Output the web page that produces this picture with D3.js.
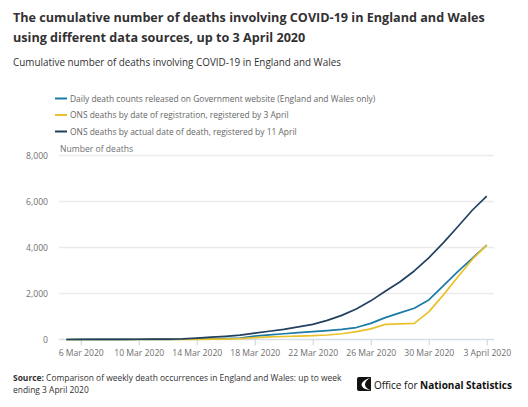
<!DOCTYPE html>
<html>
<head>
<meta charset="utf-8">
<script src="https://cdn.jsdelivr.net/npm/d3@7"></script>
<style>
  body { margin: 0; background: #fff; }
  text { font-family: "Open Sans", sans-serif; }
</style>
</head>
<body>
<div id="chart"></div>
<script>
var dates = ['5 Mar','6 Mar','7 Mar','8 Mar','9 Mar','10 Mar','11 Mar','12 Mar','13 Mar','14 Mar',
             '15 Mar','16 Mar','17 Mar','18 Mar','19 Mar','20 Mar','21 Mar','22 Mar','23 Mar','24 Mar',
             '25 Mar','26 Mar','27 Mar','28 Mar','29 Mar','30 Mar','31 Mar','1 Apr','2 Apr','3 Apr'];
var govDaily = [1,1,2,2,3,4,5,7,10,16,25,40,65,150,200,250,300,340,385,440,520,700,950,1160,1360,1720,2330,2950,3530,4100];
var onsRegistered = [0,0,0,1,1,2,3,4,5,8,12,20,40,80,110,130,150,165,195,250,340,460,660,680,700,1200,1930,2720,3480,4100];
var onsOccurred = [1,2,3,5,7,10,14,20,30,60,100,140,190,280,360,440,550,660,830,1050,1330,1680,2100,2500,2980,3550,4200,4900,5620,6235];
var yTicks = [0,2000,4000,6000,8000];
var xTickLabels = ['6 Mar 2020','10 Mar 2020','14 Mar 2020','18 Mar 2020','22 Mar 2020','26 Mar 2020','30 Mar 2020','3 April 2020'];
var seriesNames = ['Daily death counts released on Government website (England and Wales only)',
                   'ONS deaths by date of registration, registered by 3 April',
                   'ONS deaths by actual date of death, registered by 11 April'];
var colours = ['#1b7ba6','#e9c12a','#22405f'];

var width = 528, height = 407;
var svg = d3.select('#chart').append('svg')
                .attr('width',width)
                .attr('height',height);

// shrink/grow a text so its first line spans the width seen in the picture
var fit = function(sel, lineNode, target, size){
    var w = lineNode.getComputedTextLength();
    sel.attr('font-size', (size * target / w).toFixed(2) + 'px');
};

// titles
var title = svg.append('text')
                .attr('x',13).attr('y',22)
                .attr('font-size','14px').attr('font-weight','bold').attr('fill','#323132');
var t1 = title.append('tspan').attr('x',13).attr('dy',0).text('The cumulative number of deaths involving COVID-19 in England and Wales');
title.append('tspan').attr('x',13).attr('dy',20).text('using different data sources, up to 3 April 2020');
fit(title, t1.node(), 472, 14);

var sub = svg.append('text').attr('x',13).attr('y',66)
    .attr('font-size','10px').attr('fill','#323132')
    .text('Cumulative number of deaths involving COVID-19 in England and Wales');
fit(sub, sub.node(), 328, 10);

// legend
var legend = svg.selectAll('g.legend')
                .data(seriesNames)
                .enter()
                .append('g')
                .attr('class','legend')
                .attr('transform',function(d,i){ return 'translate(55,'+ (98.5 + i*16.5) +')'; });
legend.append('line')
        .attr('x1',0).attr('x2',12).attr('y1',0).attr('y2',0)
        .attr('stroke',function(d,i){ return colours[i]; })
        .attr('stroke-width',2);
var legText = legend.append('text')
        .attr('x',15).attr('y',3.2)
        .attr('font-size','8.5px').attr('fill','#666')
        .text(function(d){ return d; });
fit(legText, legText.node(), 306, 8.5);

// scales
var x = d3.scalePoint().domain(dates).range([59,494]).padding(0.5);
var y = d3.scaleLinear().domain([0,8000]).range([339.5,155.5]);

// grid
svg.selectAll('line.grid')
    .data(yTicks.slice(1))
    .enter()
    .append('line')
    .attr('class','grid')
    .attr('x1',59).attr('x2',494)
    .attr('y1',function(d){ return y(d); })
    .attr('y2',function(d){ return y(d); })
    .attr('stroke','#ebebeb').attr('stroke-width',1.3);

svg.selectAll('text.ytick')
    .data(yTicks)
    .enter()
    .append('text')
    .attr('class','ytick')
    .attr('x',48)
    .attr('y',function(d){ return y(d) + 3; })
    .attr('text-anchor','end')
    .attr('font-size','8.6px').attr('fill','#707070')
    .text(d3.format(','));

svg.append('text').attr('x',60).attr('y',152)
    .attr('font-size','8.6px').attr('fill','#707070')
    .text('Number of deaths');

// x axis
var tickDates = dates.filter(function(d,i){ return i % 4 === 1; });
var xAxis = d3.axisBottom(x)
                .tickValues(tickDates)
                .tickSize(6)
                .tickFormat(function(d,i){ return xTickLabels[i]; });
var gx = svg.append('g')
            .attr('transform','translate(0,339.5)')
            .call(xAxis);
gx.select('.domain').attr('d','M59,0H494').attr('stroke','#d5dde6').attr('stroke-width',1.3);
gx.selectAll('.tick line').attr('stroke','#d5dde6').attr('stroke-width',1.3);
gx.selectAll('.tick text')
    .attr('font-family','"Open Sans", sans-serif')
    .attr('font-size','8.6px').attr('fill','#707070').attr('dy','0.85em');

// lines
var series = [govDaily, onsRegistered, onsOccurred];
var line = d3.line()
            .x(function(d,i){ return x(dates[i]); })
            .y(function(d){ return y(d); });
svg.selectAll('path.series')
    .data(series)
    .enter()
    .append('path')
    .attr('class','series')
    .attr('d',line)
    .attr('fill','none')
    .attr('stroke',function(d,i){ return colours[i]; })
    .attr('stroke-width',1.7)
    .attr('stroke-linejoin','round');

// source
var src = svg.append('g').attr('font-size','8.5px').attr('fill','#323132');
var s1 = src.append('text').attr('x',13).attr('y',381);
s1.append('tspan').attr('font-weight','bold').text('Source:');
s1.append('tspan').text(' Comparison of weekly death occurrences in England and Wales: up to week');
src.append('text').attr('x',13).attr('y',393).text('ending 3 April 2020');
fit(src, s1.node(), 329, 8.5);

// ONS logo
var logo = svg.append('g').attr('transform','translate(357,377)');
logo.append('path')
    .attr('d','M2,0 H14 V14 H2 Q0,14 0,12 V2 Q0,0 2,0 Z')
    .attr('fill','#111');
logo.append('path')
    .attr('d','M14,0.5 Q5,3 4.5,8 Q5,12 14,13.5 Q8,11 8,7.5 Q8,3.5 14,0.5 Z')
    .attr('fill','#fff');
var logoText = svg.append('text').attr('x',374).attr('y',388.5)
                .attr('font-size','12px').attr('fill','#111');
logoText.append('tspan').text('Office for ');
logoText.append('tspan').attr('font-weight','bold').text('National Statistics');
fit(logoText, logoText.node(), 138, 12);
</script>
</body>
</html>
